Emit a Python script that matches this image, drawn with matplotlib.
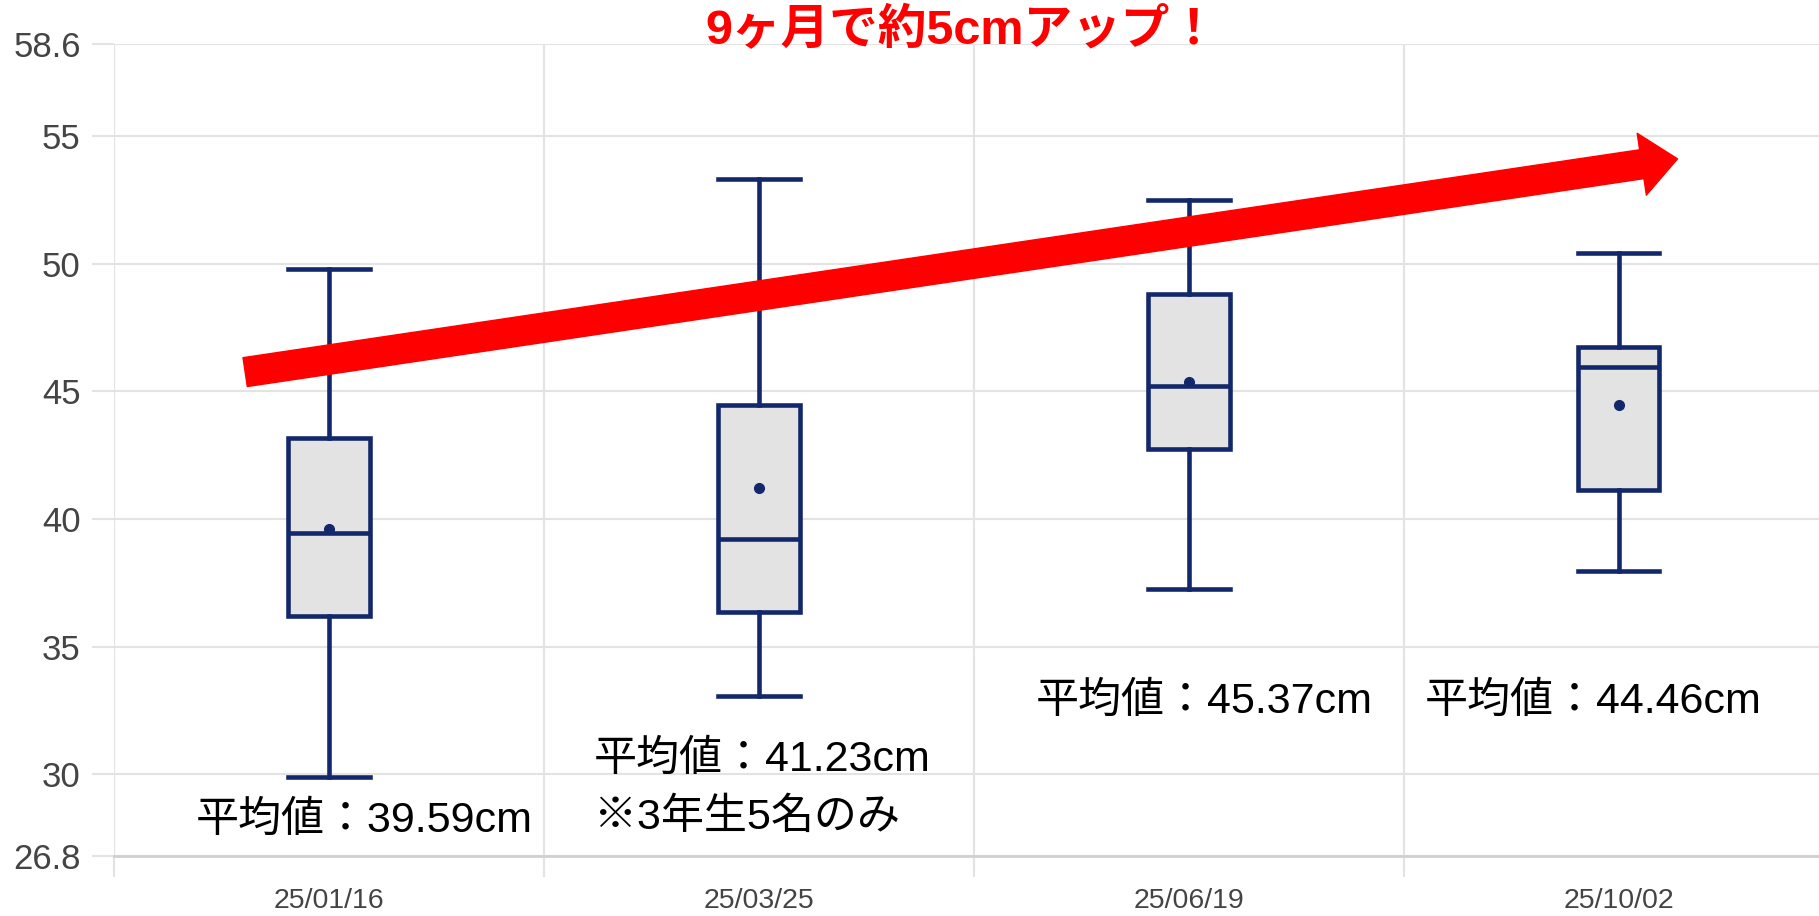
import matplotlib
matplotlib.use("Agg")
import matplotlib.pyplot as plt
from matplotlib.patches import FancyArrowPatch

fam = ['Liberation Sans', 'Noto Sans CJK JP', 'DejaVu Sans']
plt.rcParams['font.family'] = fam

# data
dates = ['25/01/16', '25/03/25', '25/06/19', '25/10/02']
whis_lo = [29.9, 33.05, 37.25, 37.95]
q1 = [36.2, 36.35, 42.75, 41.15]
medians = [39.45, 39.2, 45.2, 45.95]
q3 = [43.15, 44.45, 48.8, 46.75]
whis_hi = [49.8, 53.3, 52.5, 50.4]
means = [39.59, 41.23, 45.37, 44.46]
y_ticks = [26.8, 30, 35, 40, 45, 50, 55, 58.6]
title = '9ヶ月で約5cmアップ！'
notes = ['平均値：39.59cm', '平均値：41.23cm', '※3年生5名のみ',
         '平均値：45.37cm', '平均値：44.46cm']

navy = '#13286b'
grid_c = '#e3e3e3'

fig = plt.figure(figsize=(18.19, 9.16), dpi=100)
ax = fig.add_axes([0.0627, 0.0655, 1.008 - 0.0627, 0.952 - 0.0655])

stats = []
for i in range(len(dates)):
    stats.append({'whislo': whis_lo[i], 'q1': q1[i], 'med': medians[i],
                  'q3': q3[i], 'whishi': whis_hi[i], 'mean': means[i],
                  'fliers': []})

lw = 3.3
ax.bxp(stats, positions=range(len(dates)), widths=0.19, capwidths=0.19,
       showmeans=True, patch_artist=True, showfliers=False,
       boxprops=dict(facecolor='#e3e3e3', edgecolor=navy, linewidth=lw),
       medianprops=dict(color=navy, linewidth=lw),
       whiskerprops=dict(color=navy, linewidth=lw),
       capprops=dict(color=navy, linewidth=lw),
       meanprops=dict(marker='o', markerfacecolor=navy, markeredgecolor=navy,
                      markersize=7), zorder=3)

ax.set_xlim(-0.5, 3.5)
ax.set_ylim(26.8, 58.6)

ax.set_yticks(y_ticks)
ax.set_yticklabels([str(v) for v in y_ticks])
ax.set_xticks(range(len(dates)))
ax.set_xticklabels(dates)
ax.set_xticks([-0.5, 0.5, 1.5, 2.5, 3.5], minor=True)

ax.tick_params(axis='y', length=16, width=1.5, color=grid_c, pad=8,
               labelsize=25, labelcolor='#444444')
ax.tick_params(axis='x', which='major', length=0, pad=23,
               labelsize=20.5, labelcolor='#444444')
ax.tick_params(axis='x', which='minor', length=15, width=1.5, color=grid_c)

ax.grid(axis='y', color=grid_c, linewidth=1.5, zorder=0)
ax.grid(axis='x', which='minor', color=grid_c, linewidth=1.5, zorder=0)
ax.grid(axis='x', which='major', visible=False)
ax.set_axisbelow(True)
for s in ['top', 'right', 'left']:
    ax.spines[s].set_visible(False)
ax.spines['bottom'].set_color('#d0d0d0')
ax.spines['bottom'].set_linewidth(2)

# red trend arrow
arrow_start = (-0.195, 45.75)
arrow_end = (3.137, 54.1)
arr = FancyArrowPatch(arrow_start, arrow_end,
                      arrowstyle='simple,head_length=26,head_width=45,tail_width=21',
                      mutation_scale=1, color='#ff0000', shrinkA=0, shrinkB=0,
                      zorder=4)
ax.add_patch(arr)

note_x = [-0.31, 0.616, 0.616, 1.644, 2.549]
note_y = [28.17, 30.55, 28.28, 32.83, 32.83]
for i in range(len(notes)):
    ax.text(note_x[i], note_y[i], notes[i], fontsize=31, color='black',
            ha='left', va='center', zorder=5)

fig.text(0.529, 0.966, title, color='#ff0000', fontsize=35,
         fontweight='bold', ha='center', va='center')

fig.savefig('out.png', dpi=100)
